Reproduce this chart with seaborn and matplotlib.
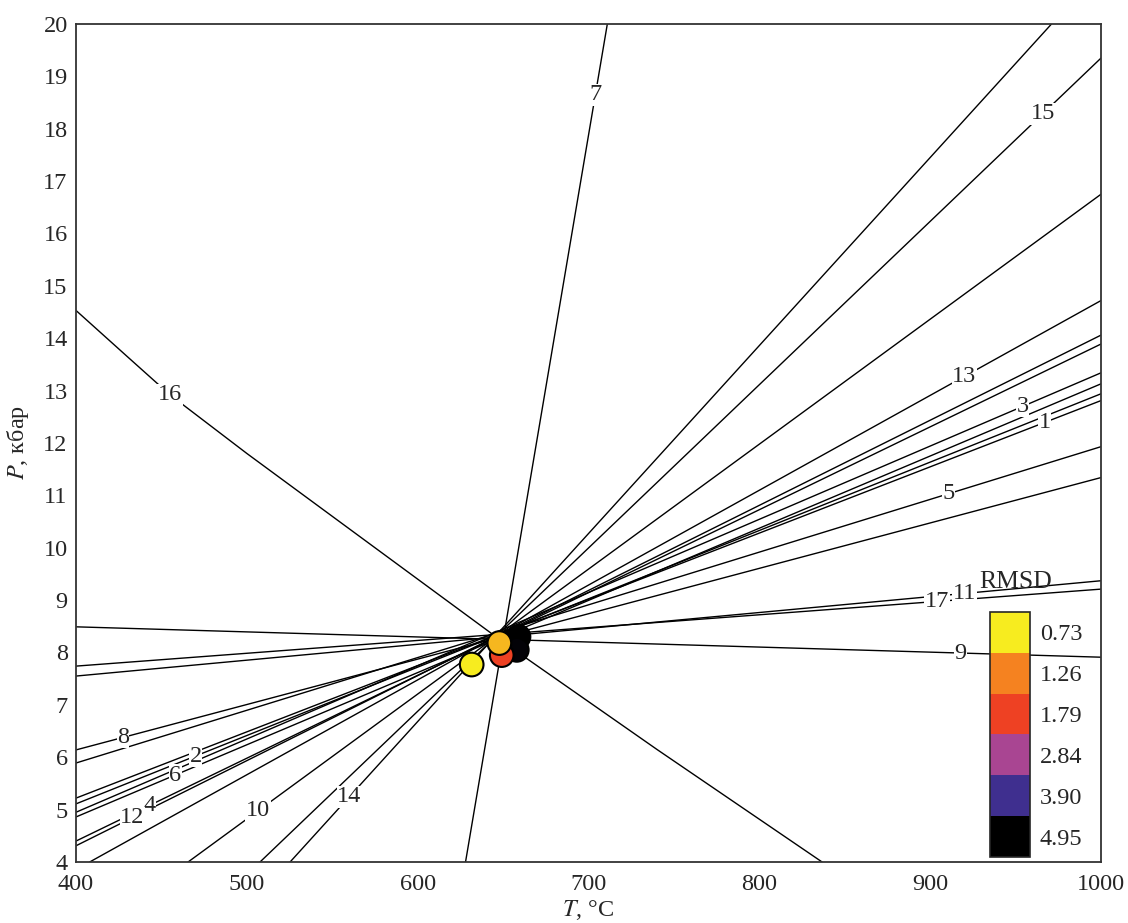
import numpy as np
import pandas as pd
import matplotlib
matplotlib.use('Agg')
import matplotlib.pyplot as plt
import seaborn as sns
from matplotlib.colors import ListedColormap, BoundaryNorm, LinearSegmentedColormap
from matplotlib.cm import ScalarMappable

# ---- reaction lines (end points) ----
line_names = ['9', '17', '11', '8', '5', '1', '2', '6', '3', '4', '12', '13', '10', '15', '14', '7']
t_left = [400, 400, 400, 400, 400, 400, 400, 400, 400, 400, 400, 408, 465.6, 507.7, 525.3, 628]
p_left = [8.49, 7.74, 7.55, 6.14, 5.89, 5.22, 5.11, 4.86, 4.95, 4.40, 4.31, 4.0, 4.0, 4.0, 4.0, 4.0]
t_right = [1000, 1000, 1000, 1000, 1000, 1000, 1000, 1000, 1000, 1000, 1000, 1000, 1000, 1000, 971, 711]
p_right = [7.91, 9.21, 9.37, 11.34, 11.93, 12.81, 12.94, 13.13, 13.34, 13.89, 14.06, 14.72, 16.75, 19.35, 20.0, 20.0]
label_t = [917.5, 904, 920, 427.5, 910.5, 967, 470, 458, 954, 443, 433, 920, 506.5, 966, 560, 704]

# line 16 is slightly curved
line16_t = [400, 430, 455, 500, 545, 600, 650, 740, 836.7]
line16_p = [14.53, 13.65, 12.92, 11.8, 10.72, 9.4, 8.2, 6.15, 4.0]
line16_label_t = 455

# ---- estimated P-T points ----
pt_t = [659, 658, 649.2, 647.8, 631.6]
pt_p = [8.30, 8.05, 7.95, 8.18, 7.77]
pt_rmsd = [4.95, 4.90, 1.79, 1.00, 0.73]

# ---- RMSD scale ----
rmsd_levels = ['0.73', '1.26', '1.79', '2.84', '3.90', '4.95']
rmsd_colors = ['#F7EC1F', '#F58220', '#EE4123', '#A94592', '#3F2F8F', '#000000']

sns.set_style('white')
plt.rcParams['font.family'] = ['Liberation Serif', 'DejaVu Serif']
plt.rcParams['mathtext.fontset'] = 'stix'
FS = 17.5

# long-form table for seaborn
rows = []
for i, name in enumerate(line_names):
    rows.append({'line': name, 'T': t_left[i], 'P': p_left[i]})
    rows.append({'line': name, 'T': t_right[i], 'P': p_right[i]})
for t, p in zip(line16_t, line16_p):
    rows.append({'line': '16', 'T': t, 'P': p})
lines_df = pd.DataFrame(rows)

fig = plt.figure(figsize=(11.28, 9.23), dpi=100)
ax = fig.add_axes([0.0674, 0.0661, 0.9087, 0.9079])

sns.lineplot(data=lines_df, x='T', y='P', units='line', estimator=None,
             sort=False, color='black', linewidth=1.0, ax=ax, zorder=2)

# line labels with white background breaking the lines
def put_label(txt, t, ts, ps):
    p = np.interp(t, ts, ps)
    ax.text(t, p, txt, fontsize=FS, ha='center', va='center', zorder=3,
            bbox=dict(facecolor='white', edgecolor='none', pad=0.3))

for i, name in enumerate(line_names):
    ts = [t_left[i], t_right[i]]
    ps = [p_left[i], p_right[i]]
    if ts[0] > ts[1]:
        ts, ps = ts[::-1], ps[::-1]
    put_label(name, label_t[i], ts, ps)
put_label('16', line16_label_t, line16_t, line16_p)

# points coloured by RMSD
vals = [float(v) for v in rmsd_levels]
nodes = [(v - vals[0]) / (vals[-1] - vals[0]) for v in vals]
pt_cmap = LinearSegmentedColormap.from_list('rmsd', list(zip(nodes, rmsd_colors)))
pts_df = pd.DataFrame({'T': pt_t, 'P': pt_p, 'RMSD': pt_rmsd})
sns.scatterplot(data=pts_df, x='T', y='P', hue='RMSD', palette=pt_cmap,
                hue_norm=(vals[0], vals[-1]), s=290, edgecolor='black',
                linewidth=1.5, legend=False, ax=ax, zorder=4)

ax.set_xlim(400, 1000)
ax.set_ylim(4, 20)
ax.set_xticks(range(400, 1001, 100))
ax.set_yticks(range(4, 21))
ax.tick_params(direction='in', length=6, width=1.0, labelsize=FS, color='#333333')
ax.tick_params(axis='x', pad=9)
ax.tick_params(axis='y', pad=6)
for sp in ax.spines.values():
    sp.set_color('#333333')
    sp.set_linewidth(1.3)
    sp.set_visible(True)

ax.set_xlabel('$T$, °C', fontsize=FS)
ax.set_ylabel('$P$, кбар', fontsize=FS)
ax.xaxis.set_label_coords(0.5, -0.043)
ax.yaxis.set_label_coords(-0.044, 0.5)

# discrete RMSD scale
cax = fig.add_axes([0.8777, 0.0715, 0.0355, 0.2655])
cmap = ListedColormap(rmsd_colors)
norm = BoundaryNorm(np.arange(len(rmsd_colors) + 1), cmap.N)
cbar = fig.colorbar(ScalarMappable(norm=norm, cmap=cmap), cax=cax, drawedges=True,
                    ticks=np.arange(len(rmsd_colors)) + 0.5)
cbar.ax.set_yticklabels(rmsd_levels)
cbar.ax.invert_yaxis()
cbar.ax.minorticks_off()
cbar.ax.tick_params(which='both', length=0, labelsize=FS, pad=7)
cbar.outline.set_linewidth(1.2)
cbar.dividers.set_color('black')
cbar.dividers.set_linewidth(1.2)
fig.text(0.9, 0.3695, 'RMSD', fontsize=FS + 1, ha='center', va='center')

fig.savefig('out.png', dpi=100)
